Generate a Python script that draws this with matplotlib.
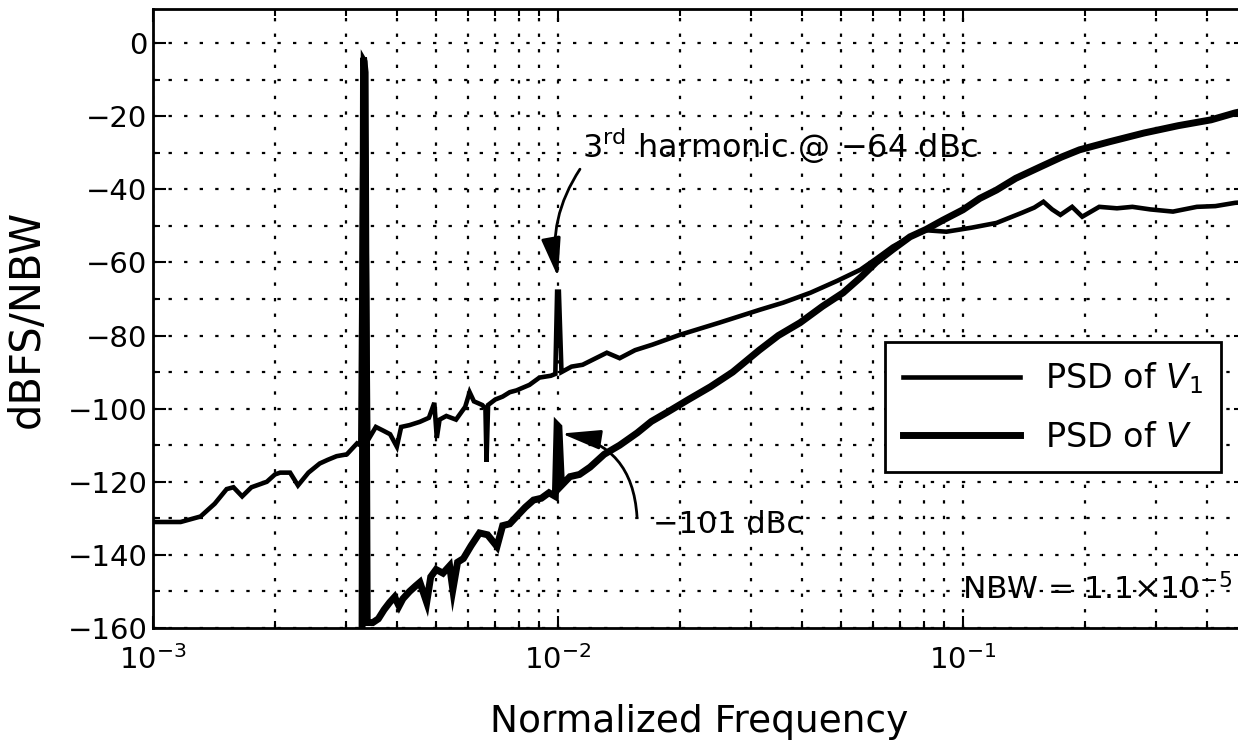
import matplotlib
matplotlib.use("Agg")
import matplotlib.pyplot as plt
from matplotlib.ticker import LogLocator, MultipleLocator, NullFormatter

# PSD of V1
f_v1 = [1.0e-3, 1.17e-3, 1.31e-3, 1.42e-3, 1.52e-3, 1.58e-3, 1.66e-3, 1.75e-3,
        1.91e-3, 2.0e-3, 2.06e-3, 2.18e-3, 2.28e-3, 2.42e-3, 2.58e-3, 2.70e-3,
        2.84e-3, 3.01e-3, 3.19e-3, 3.25e-3, 3.30e-3, 3.34e-3, 3.40e-3, 3.55e-3,
        3.7e-3, 3.85e-3, 4.0e-3, 4.1e-3, 4.3e-3, 4.56e-3, 4.8e-3, 4.95e-3,
        5.02e-3, 5.1e-3, 5.3e-3, 5.6e-3, 5.9e-3, 6.05e-3, 6.2e-3, 6.5e-3,
        6.62e-3, 6.66e-3, 6.72e-3, 7.0e-3, 7.3e-3, 7.6e-3, 7.9e-3, 8.5e-3,
        9.0e-3, 9.6e-3, 9.85e-3, 9.95e-3, 1.005e-2, 1.02e-2, 1.08e-2, 1.15e-2,
        1.32e-2, 1.42e-2, 1.55e-2, 1.71e-2, 2.0e-2, 2.5e-2, 3.14e-2, 3.6e-2,
        4.2e-2, 4.9e-2, 5.58e-2, 6.1e-2, 6.7e-2, 7.4e-2, 8.1e-2, 9.1e-2,
        0.105, 0.121, 0.14, 0.150, 0.158, 0.166, 0.174, 0.186, 0.197, 0.217,
        0.24, 0.262, 0.29, 0.33, 0.378, 0.42, 0.47, 0.5]
psd_v1 = [-131, -131, -129.5, -126, -122, -121.5, -124, -121.5,
          -120, -118, -117.5, -117.5, -121, -117.5, -115, -114,
          -113, -112.5, -109.5, -110, -4, -5, -108.5, -105,
          -106, -107, -110.4, -105, -104.5, -103.6, -102.5, -98.4,
          -108, -103, -102, -103, -99.5, -95.5, -98, -99,
          -100, -114.5, -99, -97.5, -96.7, -95.5, -95, -93.5,
          -91.5, -91, -90.5, -68, -68, -90, -88.5, -88,
          -84.7, -86.2, -84, -82.5, -79.8, -76.5, -73, -71,
          -68.3, -65, -62, -59, -55.7, -53, -51.2, -51.6,
          -50.5, -49.2, -46.4, -45, -43.4, -45.5, -47, -44.8, -47.5, -44.8,
          -45.2, -44.8, -45.5, -46.1, -44.8, -44.6, -43.7, -43.5]

# PSD of V
f_v = [3.28e-3, 3.31e-3, 3.34e-3, 3.38e-3, 3.49e-3, 3.6e-3, 3.72e-3, 3.84e-3,
       3.95e-3, 4.05e-3, 4.14e-3, 4.3e-3, 4.45e-3, 4.56e-3, 4.74e-3, 4.85e-3,
       5.0e-3, 5.2e-3, 5.4e-3, 5.5e-3, 5.65e-3, 5.84e-3, 6.1e-3, 6.4e-3,
       6.7e-3, 7.07e-3, 7.3e-3, 7.6e-3, 7.9e-3, 8.3e-3, 8.7e-3, 9.1e-3,
       9.5e-3, 9.85e-3, 9.95e-3, 1.005e-2, 1.02e-2, 1.07e-2, 1.13e-2, 1.2e-2,
       1.3e-2, 1.42e-2, 1.57e-2, 1.7e-2, 1.86e-2, 2.1e-2, 2.38e-2, 2.7e-2,
       3.14e-2, 3.5e-2, 3.96e-2, 4.5e-2, 5.06e-2, 5.6e-2, 6.1e-2, 6.7e-2,
       7.4e-2, 8.1e-2, 8.9e-2, 0.1, 0.11, 0.121, 0.135, 0.155, 0.175, 0.194,
       0.23, 0.28, 0.34, 0.41, 0.47, 0.5]
psd_v = [-175, -4, -8, -158.5, -158.5, -157.5, -155, -153,
         -151.5, -154, -152, -150, -148.5, -147.5, -153, -146,
         -144, -145, -143, -149.5, -142, -141, -137.5, -134,
         -134.5, -137.7, -132, -131.5, -129.5, -127, -125, -124.5,
         -123, -124, -104.5, -105, -121, -118.6, -118, -116,
         -112.5, -110, -106.6, -103.5, -101, -97.5, -94, -90,
         -84, -80, -76.5, -72, -68.3, -64, -60, -56.5,
         -53, -51, -48.5, -45.6, -42.5, -40.2, -37, -33.9, -31.2, -29.2,
         -27, -24.6, -22.6, -21, -19.1, -18.5]

plt.rcParams['font.family'] = ['DejaVu Sans']

fig = plt.figure(figsize=(12.38, 7.48), dpi=100)
ax = fig.add_axes([0.1236, 0.1604, 0.8829, 0.8275])

l1, = ax.semilogx(f_v1, psd_v1, color='k', lw=3.3, solid_joinstyle='miter')
l2, = ax.semilogx(f_v, psd_v, color='k', lw=5.0, solid_joinstyle='miter')

ax.set_xlim(1e-3, 0.5)
ax.set_ylim(-160, 9.3)

ax.xaxis.set_major_locator(LogLocator(base=10, numticks=10))
ax.xaxis.set_minor_locator(LogLocator(base=10, subs=range(2, 10), numticks=20))
ax.xaxis.set_minor_formatter(NullFormatter())
ax.yaxis.set_major_locator(MultipleLocator(20))
ax.yaxis.set_minor_locator(MultipleLocator(10))

dots = (0, (1.5, 5.5))
ax.grid(True, which='both', color='k', linestyle=dots, lw=1.6)

ax.tick_params(which='both', direction='in', top=True, right=True, labelsize=21, width=1.5)
ax.tick_params(which='major', length=9)
ax.tick_params(which='minor', length=5)
ax.tick_params(axis='x', pad=12)
ax.tick_params(axis='y', pad=4)
for s in ax.spines.values():
    s.set_linewidth(2.0)

ax.set_xlabel('Normalized Frequency', fontsize=27)
ax.set_ylabel('dBFS/NBW', fontsize=30)
ax.xaxis.set_label_coords(0.5, -0.123)
ax.yaxis.set_label_coords(-0.096, 0.5)

# annotations
ax.text(0.01144, -31.4, '3$^{\\rm rd}$ harmonic @ \u221264 dBc', fontsize=23, va='baseline')
ax.annotate('', xy=(1.0e-2, -64), xytext=(0.01133, -34.5),
            arrowprops=dict(arrowstyle='-|>,head_length=1.2,head_width=0.3', mutation_scale=20,
                            connectionstyle='arc3,rad=0.2', color='k', lw=2, shrinkA=0, shrinkB=0))
ax.text(0.01714, -133.9, '\u2212101 dBc', fontsize=22, va='baseline')
ax.annotate('', xy=(1.02e-2, -106.8), xytext=(0.01567, -129.5),
            arrowprops=dict(arrowstyle='-|>,head_length=1.2,head_width=0.3', mutation_scale=20,
                            connectionstyle='arc3,rad=0.4', color='k', lw=2, shrinkA=0, shrinkB=0))
ax.text(0.0994, -152.2, 'NBW = 1.1$\\times$10$^{-5}$', fontsize=22.5, va='baseline')

leg = ax.legend([l1, l2], ['PSD of $V_1$', 'PSD of $V$'], loc='upper right',
                bbox_to_anchor=(0.977, 0.462), borderaxespad=0, fontsize=24,
                handlelength=3.5, labelspacing=0.75, borderpad=0.55, handletextpad=0.75,
                fancybox=False, framealpha=1, edgecolor='k')
leg.get_frame().set_linewidth(2.0)

fig.savefig('out.png', dpi=100)
